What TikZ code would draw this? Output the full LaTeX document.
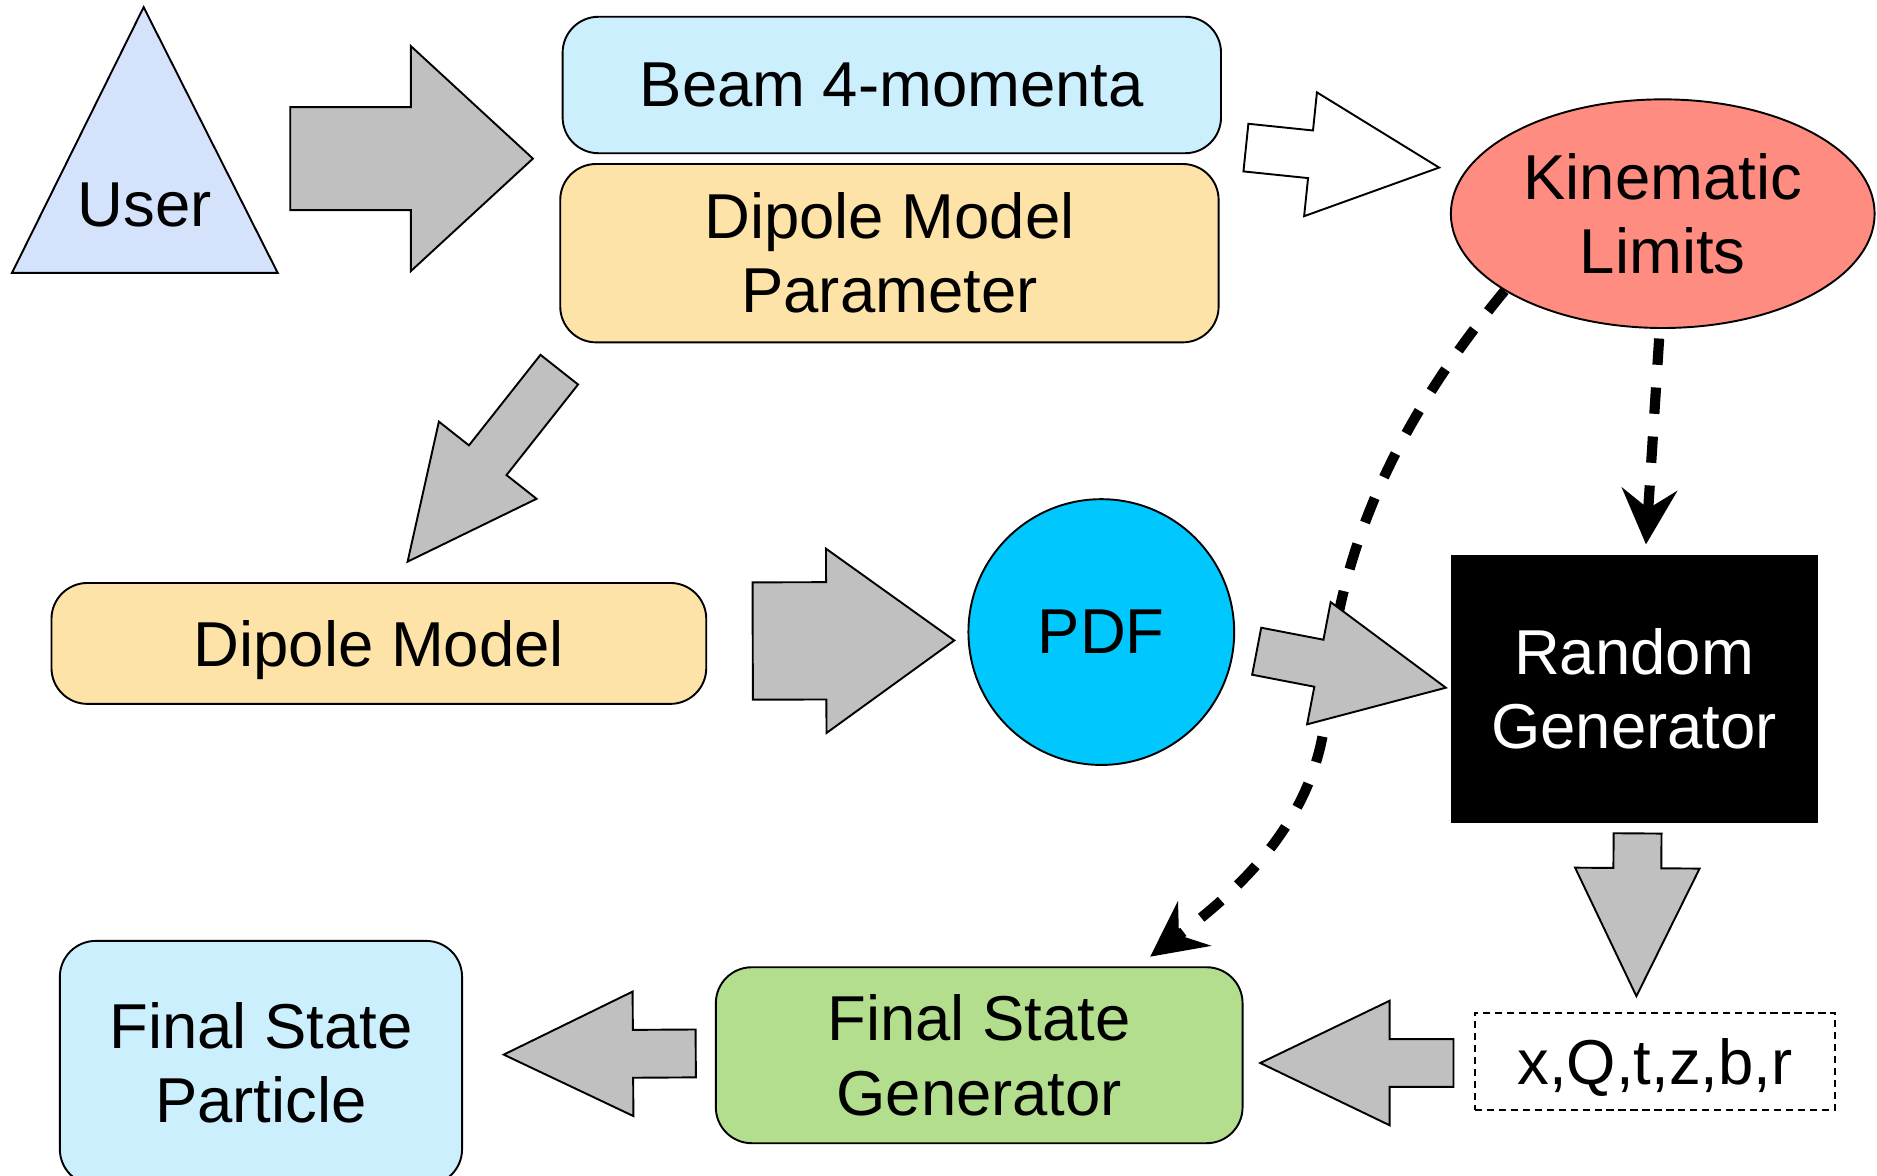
\documentclass[tikz,border=0pt]{standalone}
\usepackage{fontspec}
\setmainfont{Liberation Sans}
\usetikzlibrary{shapes.geometric,arrows.meta,calc}

\definecolor{userblue}{HTML}{D4E2FB}
\definecolor{beamcyan}{HTML}{CCEFFD}
\definecolor{dipoleorange}{HTML}{FDE3A8}
\definecolor{kinred}{HTML}{FF8C80}
\definecolor{pdfcyan}{HTML}{00C8FF}
\definecolor{fsggreen}{HTML}{B3DE8E}
\definecolor{arrowgray}{HTML}{C0C0C0}

\newcommand\diagfont{\fontsize{53pt}{62pt}\selectfont}

% block arrow: [opts] tail, tip, shaft half width, head half width, head length
\newcommand\blockarrow[6][]{%
  \path (#2) coordinate (ba-tail) (#3) coordinate (ba-tip);
  \path ($(ba-tip)!#6!(ba-tail)$) coordinate (ba-base);
  \draw[blockarr,#1] ($(ba-tail)!#4!90:(ba-tip)$) -- ($(ba-base)!#4!-90:(ba-tail)$)
    -- ($(ba-base)!#5!-90:(ba-tail)$) -- (ba-tip) -- ($(ba-base)!#5!90:(ba-tail)$)
    -- ($(ba-base)!#4!90:(ba-tail)$) -- ($(ba-tail)!#4!-90:(ba-tip)$) -- cycle;
}

\tikzset{
  every node/.style={font=\diagfont},
  box/.style={draw, line width=1.6pt, rounded corners=30pt, align=center, inner sep=0pt},
  blockarr/.style={draw, fill=arrowgray, line width=1.6pt, line join=miter},
  dashflow/.style={line width=8.5pt, dash pattern=on 22pt off 19pt,
    -{Stealth[length=46pt,width=46pt,inset=16pt]}},
}

\begin{document}
\begin{tikzpicture}[x=1pt, y=-1pt]
  \useasboundingbox (0,0) rectangle (1568,982);
  \clip (0,0) rectangle (1568,982);

  % user
  \draw[fill=userblue, line width=1.6pt] (120,6) -- (232,228) -- (10,228) -- cycle;
  \node (user) at (121,171) {User};

  % inputs
  \node[box, fill=beamcyan, minimum width=550pt, minimum height=114pt] (beam) at (745,71) {Beam 4-momenta};
  \node[box, fill=dipoleorange, minimum width=550pt, minimum height=149pt] (dmp) at (743,211.5) {Dipole Model\\Parameter};
  \node[ellipse, draw, fill=kinred, line width=1.6pt, minimum width=354pt, minimum height=191pt,
    align=center, inner sep=0pt] (kin) at (1389,178.5) {Kinematic\\Limits};

  % middle row
  \node[box, fill=dipoleorange, minimum width=547pt, minimum height=101pt, text depth=0pt] (dm) at (316.5,537.5) {Dipole Model};
  \node[circle, draw, fill=pdfcyan, line width=1.6pt, minimum size=222pt, inner sep=0pt] (pdf) at (920,528) {PDF};
  \node[draw, fill=black, text=white, minimum width=306pt, minimum height=223pt,
    align=center, inner sep=0pt] (rng) at (1365,575.5) {Random\\Generator};

  % bottom row
  \node[draw, line width=1.6pt, dash pattern=on 6pt off 4pt, minimum width=301pt, minimum height=81pt,
    inner sep=0pt, text depth=0pt] (par) at (1382.5,886.5) {x,Q,t,z,b,r};
  \node[box, fill=fsggreen, minimum width=440pt, minimum height=147pt] (fsg) at (818,881.5) {Final State\\Generator};
  \node[box, fill=beamcyan, minimum width=336pt, minimum height=204pt] (fsp) at (218,888) {Final State\\Particle};

  % dashed links
  \draw[dashflow] ($(kin.south)+(-3,8)$) -- ($(rng.north)+(10,-9)$);
  \draw[dashflow] (kin.206) .. controls (1160,360) and (1115,470) .. (1108,590)
    .. controls (1102,680) and (1040,740) .. ($(fsg.north east)+(-78,-8)$);

  % block arrows
  \coordinate (grp) at ($(beam.south west)!.5!(dmp.north west)$);
  \blockarrow{$(grp -| user.east)+(62,0)$}{$(grp)+(-23,0)$}{43pt}{94pt}{102pt}
  \blockarrow[fill=white]{$(beam.south east)+(20,-5.5)$}{$(kin.west)+(-9,-38.5)$}{20pt}{52pt}{108pt}
  \blockarrow{$(dmp.south west)+(0,22)$}{$(dm.north)+(24,-17)$}{20pt}{52pt}{108pt}
  \blockarrow{$(dm.east)+(38,-2)$}{$(pdf.west)+(-11,7)$}{49pt}{77pt}{107pt}
  \blockarrow{$(pdf.east)+(18,16)$}{$(rng.west)+(-4,-1)$}{20pt}{52pt}{108pt}
  \blockarrow{$(rng.south)+(3,9)$}{$(par.north)+(-15.5,-13)$}{20pt}{52pt}{107pt}
  \blockarrow{$(par.west)+(-17,1.5)$}{$(fsg.east)+(14,6.5)$}{20pt}{52pt}{108pt}
  \blockarrow{$(fsg.west)+(-16,-1.5)$}{$(fsp.east)+(34,-7)$}{20pt}{52pt}{108pt}
\end{tikzpicture}
\end{document}
